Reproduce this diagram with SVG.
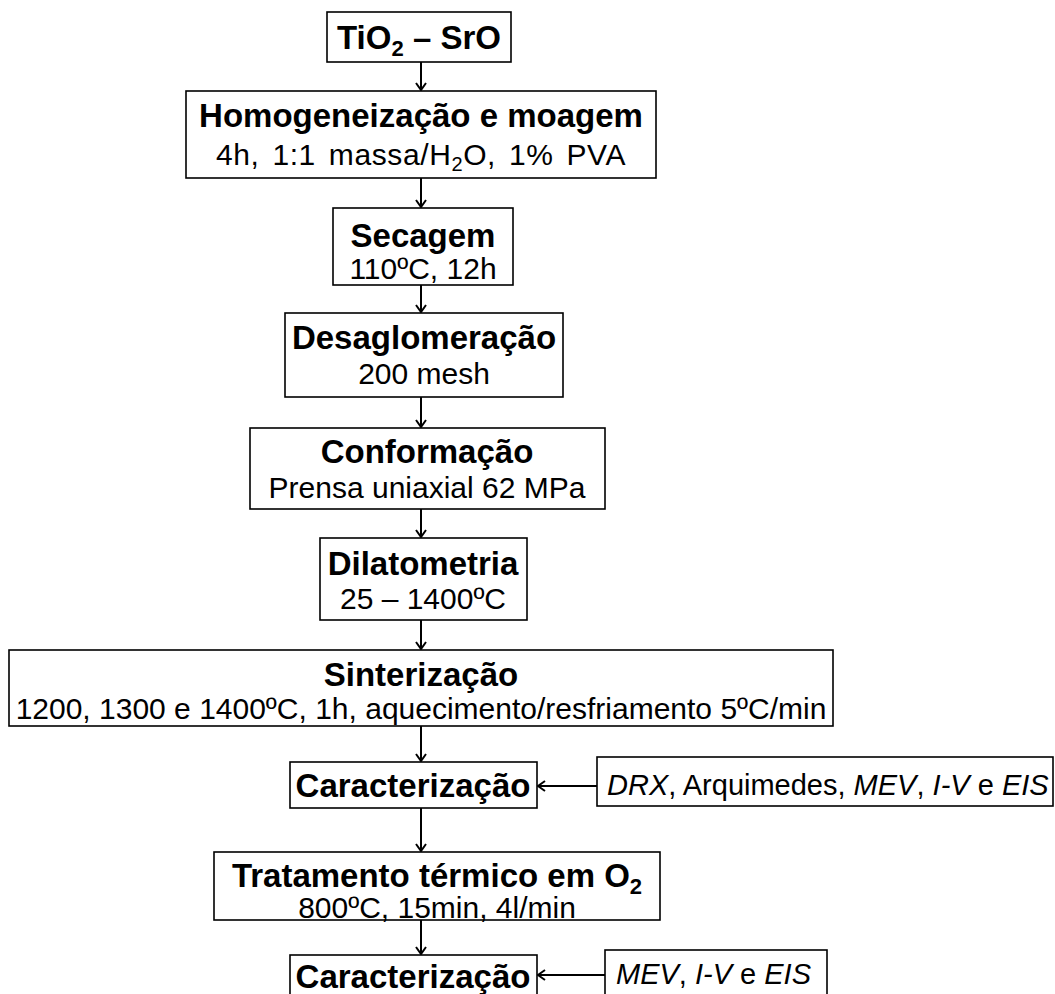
<svg xmlns="http://www.w3.org/2000/svg" width="1055" height="994" viewBox="0 0 1055 994">
<style>
.box{fill:#fff;stroke:#000;stroke-width:1.6}
.t{font-family:"Liberation Sans",Arial,sans-serif;font-weight:bold;font-size:33px;text-anchor:middle;fill:#000}
.s{font-family:"Liberation Sans",Arial,sans-serif;font-size:30px;text-anchor:middle;fill:#000}
.side{font-family:"Liberation Sans",Arial,sans-serif;font-size:29px;fill:#000}
.c{stroke:#000;stroke-width:2;fill:none}
</style>
<defs>
<marker id="ah" markerWidth="12" markerHeight="12" refX="10" refY="6" orient="auto" markerUnits="userSpaceOnUse">
<path d="M3,1 L10,6 L3,11" fill="none" stroke="#000" stroke-width="2"/>
</marker>
</defs>
<rect width="1055" height="994" fill="#fff"/>
<g id="connectors">
<line class="c" x1="421" y1="62" x2="421" y2="90" marker-end="url(#ah)"/>
<line class="c" x1="421" y1="178" x2="421" y2="207" marker-end="url(#ah)"/>
<line class="c" x1="421" y1="285" x2="421" y2="312" marker-end="url(#ah)"/>
<line class="c" x1="421" y1="397" x2="421" y2="427" marker-end="url(#ah)"/>
<line class="c" x1="421" y1="509" x2="421" y2="537" marker-end="url(#ah)"/>
<line class="c" x1="421" y1="620" x2="421" y2="649" marker-end="url(#ah)"/>
<line class="c" x1="421" y1="726" x2="421" y2="761" marker-end="url(#ah)"/>
<line class="c" x1="421" y1="808" x2="421" y2="851" marker-end="url(#ah)"/>
<line class="c" x1="421" y1="920" x2="421" y2="954" marker-end="url(#ah)"/>
<line class="c" x1="597" y1="786" x2="538" y2="786" marker-end="url(#ah)"/>
<line class="c" x1="605" y1="975" x2="538" y2="975" marker-end="url(#ah)"/>
</g>
<g id="n1">
<rect class="box" x="327" y="12" width="184" height="50"/>
<text class="t" x="419" y="49">TiO<tspan font-size="22" dy="7">2</tspan><tspan dy="-7"> – SrO</tspan></text>
</g>
<g id="n2">
<rect class="box" x="186" y="91" width="470" height="87"/>
<text class="t" x="421" y="127">Homogeneização e moagem</text>
<text class="s" x="421" y="165" font-size="31" letter-spacing="0.6" word-spacing="4">4h, 1:1 massa/H<tspan font-size="20" dy="6">2</tspan><tspan dy="-6">O, 1% PVA</tspan></text>
</g>
<g id="n3">
<rect class="box" x="333" y="208" width="180" height="77"/>
<text class="t" x="423" y="247">Secagem</text>
<text class="s" x="423" y="279">110ºC, 12h</text>
</g>
<g id="n4">
<rect class="box" x="285" y="313" width="278" height="84"/>
<text class="t" x="424" y="349">Desaglomeração</text>
<text class="s" x="424" y="384">200 mesh</text>
</g>
<g id="n5">
<rect class="box" x="250" y="428" width="355" height="81"/>
<text class="t" x="427" y="463">Conformação</text>
<text class="s" x="427" y="498">Prensa uniaxial 62 MPa</text>
</g>
<g id="n6">
<rect class="box" x="320" y="538" width="207" height="82"/>
<text class="t" x="423" y="575">Dilatometria</text>
<text class="s" x="423" y="609">25 – 1400ºC</text>
</g>
<g id="n7">
<rect class="box" x="9" y="650" width="824" height="76"/>
<text class="t" x="421" y="686">Sinterização</text>
<text class="s" x="421" y="719">1200, 1300 e 1400ºC, 1h, aquecimento/resfriamento 5ºC/min</text>
</g>
<g id="n8">
<rect class="box" x="290" y="762" width="247" height="46"/>
<text class="t" x="413" y="797">Caracterização</text>
</g>
<g id="n8b">
<rect class="box" x="597" y="757" width="456" height="49"/>
<text class="side" x="607" y="795"><tspan font-style="italic">DRX</tspan>, Arquimedes,  <tspan font-style="italic">MEV</tspan>, <tspan font-style="italic">I-V</tspan> e <tspan font-style="italic">EIS</tspan></text>
</g>
<g id="n9">
<rect class="box" x="214" y="852" width="446" height="68"/>
<text class="t" x="437" y="887">Tratamento térmico em O<tspan font-size="22" dy="7">2</tspan></text>
<text class="s" x="437" y="918">800ºC, 15min, 4l/min</text>
</g>
<g id="n10">
<rect class="box" x="290" y="955" width="247" height="50"/>
<text class="t" x="413" y="988">Caracterização</text>
</g>
<g id="n10b">
<rect class="box" x="605" y="950" width="222" height="55"/>
<text class="side" x="616" y="984"><tspan font-style="italic">MEV</tspan>, <tspan font-style="italic">I-V</tspan> e <tspan font-style="italic">EIS</tspan></text>
</g>
</svg>
